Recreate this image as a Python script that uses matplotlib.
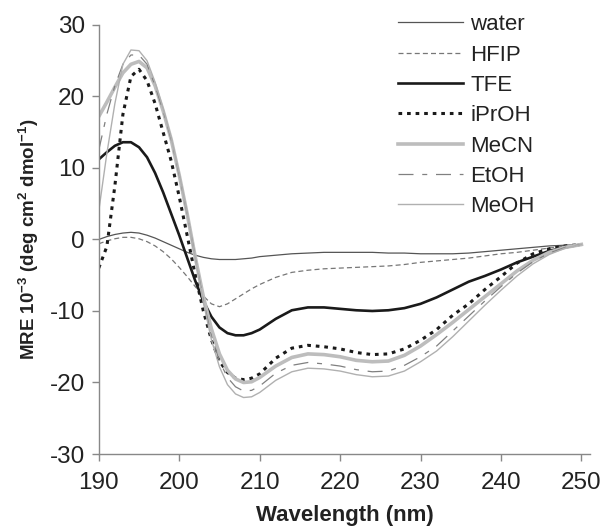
import matplotlib
matplotlib.use("Agg")
import matplotlib.pyplot as plt

plt.rcParams['font.family'] = ['Liberation Sans', 'DejaVu Sans']
plt.rcParams['axes.unicode_minus'] = False
plt.rcParams['mathtext.fontset'] = 'custom'
plt.rcParams['mathtext.rm'] = 'Liberation Sans'
plt.rcParams['mathtext.bf'] = 'Liberation Sans:bold'

wavelength = [190, 191, 192, 193, 194, 195, 196, 197, 198, 199, 200,
              201, 202, 203, 204, 205, 206, 207, 208, 209, 210,
              212, 214, 216, 218, 220, 222, 224, 226, 228, 230,
              232, 234, 236, 238, 240, 242, 244, 246, 248, 250]

water = [0.0, 0.4, 0.7, 0.9, 1.0, 0.9, 0.6, 0.2, -0.3, -0.8, -1.3,
         -1.8, -2.2, -2.5, -2.7, -2.8, -2.8, -2.8, -2.7, -2.6, -2.4,
         -2.2, -2.0, -1.9, -1.8, -1.8, -1.8, -1.8, -1.9, -1.9, -2.0,
         -2.0, -2.0, -1.9, -1.7, -1.5, -1.3, -1.1, -0.9, -0.8, -0.7]

hfip = [-0.6, -0.2, 0.1, 0.3, 0.3, 0.1, -0.3, -0.9, -1.7, -2.7, -3.9,
        -5.2, -6.6, -7.9, -9.0, -9.4, -9.0, -8.3, -7.6, -6.9, -6.3,
        -5.3, -4.6, -4.3, -4.1, -4.0, -3.9, -3.8, -3.7, -3.5, -3.2,
        -3.0, -2.8, -2.6, -2.3, -2.0, -1.8, -1.5, -1.2, -0.9, -0.7]

tfe = [11.2, 12.2, 13.1, 13.6, 13.6, 12.9, 11.5, 9.3, 6.6, 3.6, 0.6,
       -2.6, -5.8, -8.6, -10.8, -12.3, -13.1, -13.4, -13.4, -13.1, -12.6,
       -11.1, -9.9, -9.5, -9.5, -9.7, -9.9, -10.0, -9.9, -9.6, -9.0,
       -8.1, -7.0, -5.9, -5.1, -4.2, -3.2, -2.4, -1.6, -1.1, -0.7]

iproh = [-4.0, -1.0, 7.5, 17.5, 22.8, 23.8, 22.2, 19.0, 15.0, 11.0, 6.0,
         0.5, -5.0, -10.0, -14.0, -17.0, -18.6, -19.4, -19.6, -19.4, -18.8,
         -16.6, -15.2, -14.8, -15.0, -15.3, -15.8, -16.1, -16.0, -15.3, -14.1,
         -12.6, -10.6, -9.0, -7.0, -5.2, -3.3, -2.0, -1.3, -0.9, -0.7]

mecn = [17.2, 19.2, 21.3, 23.3, 24.5, 24.9, 24.0, 21.5, 18.0, 14.0, 9.0,
        3.5, -2.5, -8.0, -12.5, -16.0, -18.3, -19.5, -20.0, -19.9, -19.3,
        -17.7, -16.5, -16.0, -16.1, -16.4, -16.9, -17.1, -17.0, -16.2, -14.9,
        -13.3, -11.6, -9.8, -8.0, -6.2, -4.4, -2.9, -1.8, -1.1, -0.7]

etoh = [12.5, 17.5, 21.5, 24.5, 25.8, 25.8, 24.5, 21.5, 18.0, 14.0, 9.0,
        3.5, -2.5, -8.5, -13.5, -17.0, -19.3, -20.6, -21.2, -21.1, -20.5,
        -18.7, -17.6, -17.2, -17.4, -17.7, -18.2, -18.5, -18.4, -17.6, -16.4,
        -14.9, -12.8, -10.7, -8.6, -6.6, -4.7, -3.1, -1.9, -1.1, -0.7]

meoh = [4.0, 12.0, 19.0, 24.5, 26.5, 26.4, 25.0, 22.0, 18.3, 14.2, 9.2,
        3.6, -2.6, -8.8, -14.0, -17.8, -20.3, -21.6, -22.1, -22.0, -21.4,
        -19.7, -18.5, -18.0, -18.1, -18.4, -18.9, -19.2, -19.1, -18.4, -17.1,
        -15.6, -13.6, -11.4, -9.2, -7.1, -5.1, -3.4, -2.1, -1.2, -0.7]

labels = ['water', 'HFIP', 'TFE', 'iPrOH', 'MeCN', 'EtOH', 'MeOH']
xticks = [190, 200, 210, 220, 230, 240, 250]
yticks = [-30, -20, -10, 0, 10, 20, 30]

fig = plt.figure(figsize=(6.06, 5.31), dpi=100)
ax = fig.add_axes([0.163, 0.145, 0.811, 0.808])

ax.plot(wavelength, water, color='#555555', lw=0.9, label=labels[0])
ax.plot(wavelength, hfip, color='#777777', lw=0.9, dashes=(4, 2.5), label=labels[1])
ax.plot(wavelength, tfe, color='#1a1a1a', lw=1.9, label=labels[2])
ax.plot(wavelength, iproh, color='#1a1a1a', lw=2.2, dashes=(1.2, 1.6), label=labels[3])
ax.plot(wavelength, mecn, color='#bdbdbd', lw=2.6, label=labels[4])
ax.plot(wavelength, etoh, color='#808080', lw=0.9, dashes=(12, 7, 4, 7), label=labels[5])
ax.plot(wavelength, meoh, color='#b0b0b0', lw=1.0, label=labels[6])

ax.set_xlim(190, 251.1)
ax.set_ylim(-30, 30)
ax.set_xticks(xticks)
ax.set_yticks(yticks)
ax.tick_params(axis='both', direction='out', length=5, width=1, color='#888888',
               labelsize=17.5, labelcolor='#222222')
ax.tick_params(axis='x', pad=8)
ax.tick_params(axis='y', pad=5)
for s in ['top', 'right']:
    ax.spines[s].set_visible(False)
for s in ['left', 'bottom']:
    ax.spines[s].set_color('#888888')
    ax.spines[s].set_linewidth(1.0)

ax.set_xlabel('Wavelength (nm)', fontsize=16, fontweight='bold', color='#222222', labelpad=8)
ax.set_ylabel(r'MRE 10$^{\mathbf{-3}}$ (deg cm$^{\mathbf{2}}$ dmol$^{\mathbf{-1}}$)',
              fontsize=13.5, fontweight='bold', color='#222222', labelpad=6)

leg = ax.legend(loc='upper left', bbox_to_anchor=(0.642, 0.99),
                bbox_transform=fig.transFigure, frameon=False,
                fontsize=16, handlelength=2.93, handletextpad=0.32, labelspacing=0.42,
                borderaxespad=0.0)
for t in leg.get_texts():
    t.set_color('#222222')

fig.savefig('out.png', dpi=100)
